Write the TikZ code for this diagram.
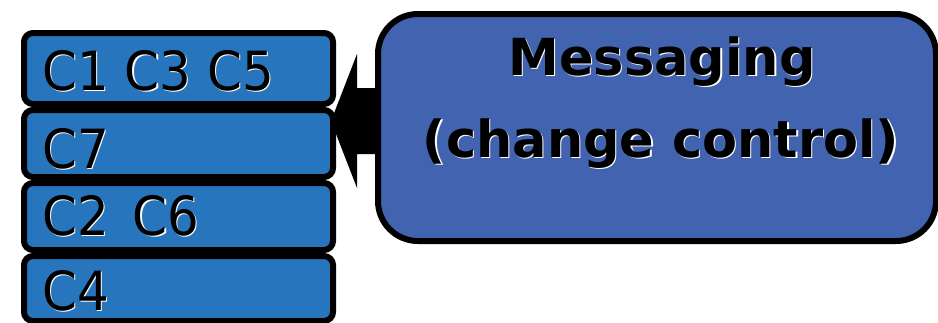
\documentclass[tikz,border=0pt]{standalone}
\usepackage{fontspec}
\setmainfont{DejaVu Sans}
\usetikzlibrary{calc}
\definecolor{slotblue}{RGB}{39,117,189}
\definecolor{msgblue}{RGB}{66,99,175}
% black text with a thin white offset copy behind it
\newcommand\embossed[1]{\leavevmode\rlap{\kern1.3pt\raisebox{-1.3pt}{\color{white}#1}}#1}
% slightly taller glyphs for the slot labels
\newcommand\tallembossed[1]{\scalebox{1}[1.08]{\embossed{#1}}}
\tikzset{
  slot/.style={draw=black, line width=6pt, fill=slotblue, rounded corners=9pt,
    minimum width=309pt, anchor=north west, inner sep=0pt},
  msgbox/.style={draw=black, line width=6pt, fill=msgblue, rounded corners=40pt,
    minimum width=558pt, minimum height=227pt, anchor=north west, inner sep=0pt},
  slottext/.style={anchor=base west, inner sep=0pt, font=\fontsize{50}{60}\selectfont},
  msgtext/.style={anchor=base, inner sep=0pt, font=\fontsize{51}{60}\selectfont\bfseries},
}
\begin{document}
\begin{tikzpicture}[x=1pt, y=-1pt]
\useasboundingbox (0,0) rectangle (938,322);
% message box position is needed for the arrow first
\path (375,11) node[msgbox, draw=none, fill=none] (msgpos) {};
% block arrow pointing from the message box to the slot stack
\coordinate (tip) at (331,121);
\path (tip) ++(26,-33) coordinate (a1) ++(0,66) coordinate (a2);
\fill[black] (tip) -- ++(26,-67) -- (a1) -- (a1 -| msgpos.center) -- (a2 -| msgpos.center)
  -- (a2) -- ++(0,34) -- cycle;
% message box
\node[msgbox] (msg) at (375,11) {};
\node[msgtext] (m1) at (662,75) {\embossed{Messaging}};
\node[msgtext] (m2) at (661,157) {\embossed{(change control)}};
% stack of slots
\node[slot, minimum height=71pt] (r1) at (21,30) {};
\node[slot, minimum height=67pt] (r2) at (21,107) {};
\node[slot, minimum height=67pt] (r3) at (21,180) {};
\node[slot, minimum height=65pt] (r4) at (21,253) {};
\node[slottext] (t1) at (42,90) {\tallembossed{C1 C3 C5}};
\node[slottext] (t2) at (42,168) {\tallembossed{C7}};
\node[slottext] (t3) at (42,235) {\tallembossed{C2\hspace{8pt} C6}};
\node[slottext] (t4) at (42,310) {\tallembossed{C4}};
\end{tikzpicture}
\end{document}
